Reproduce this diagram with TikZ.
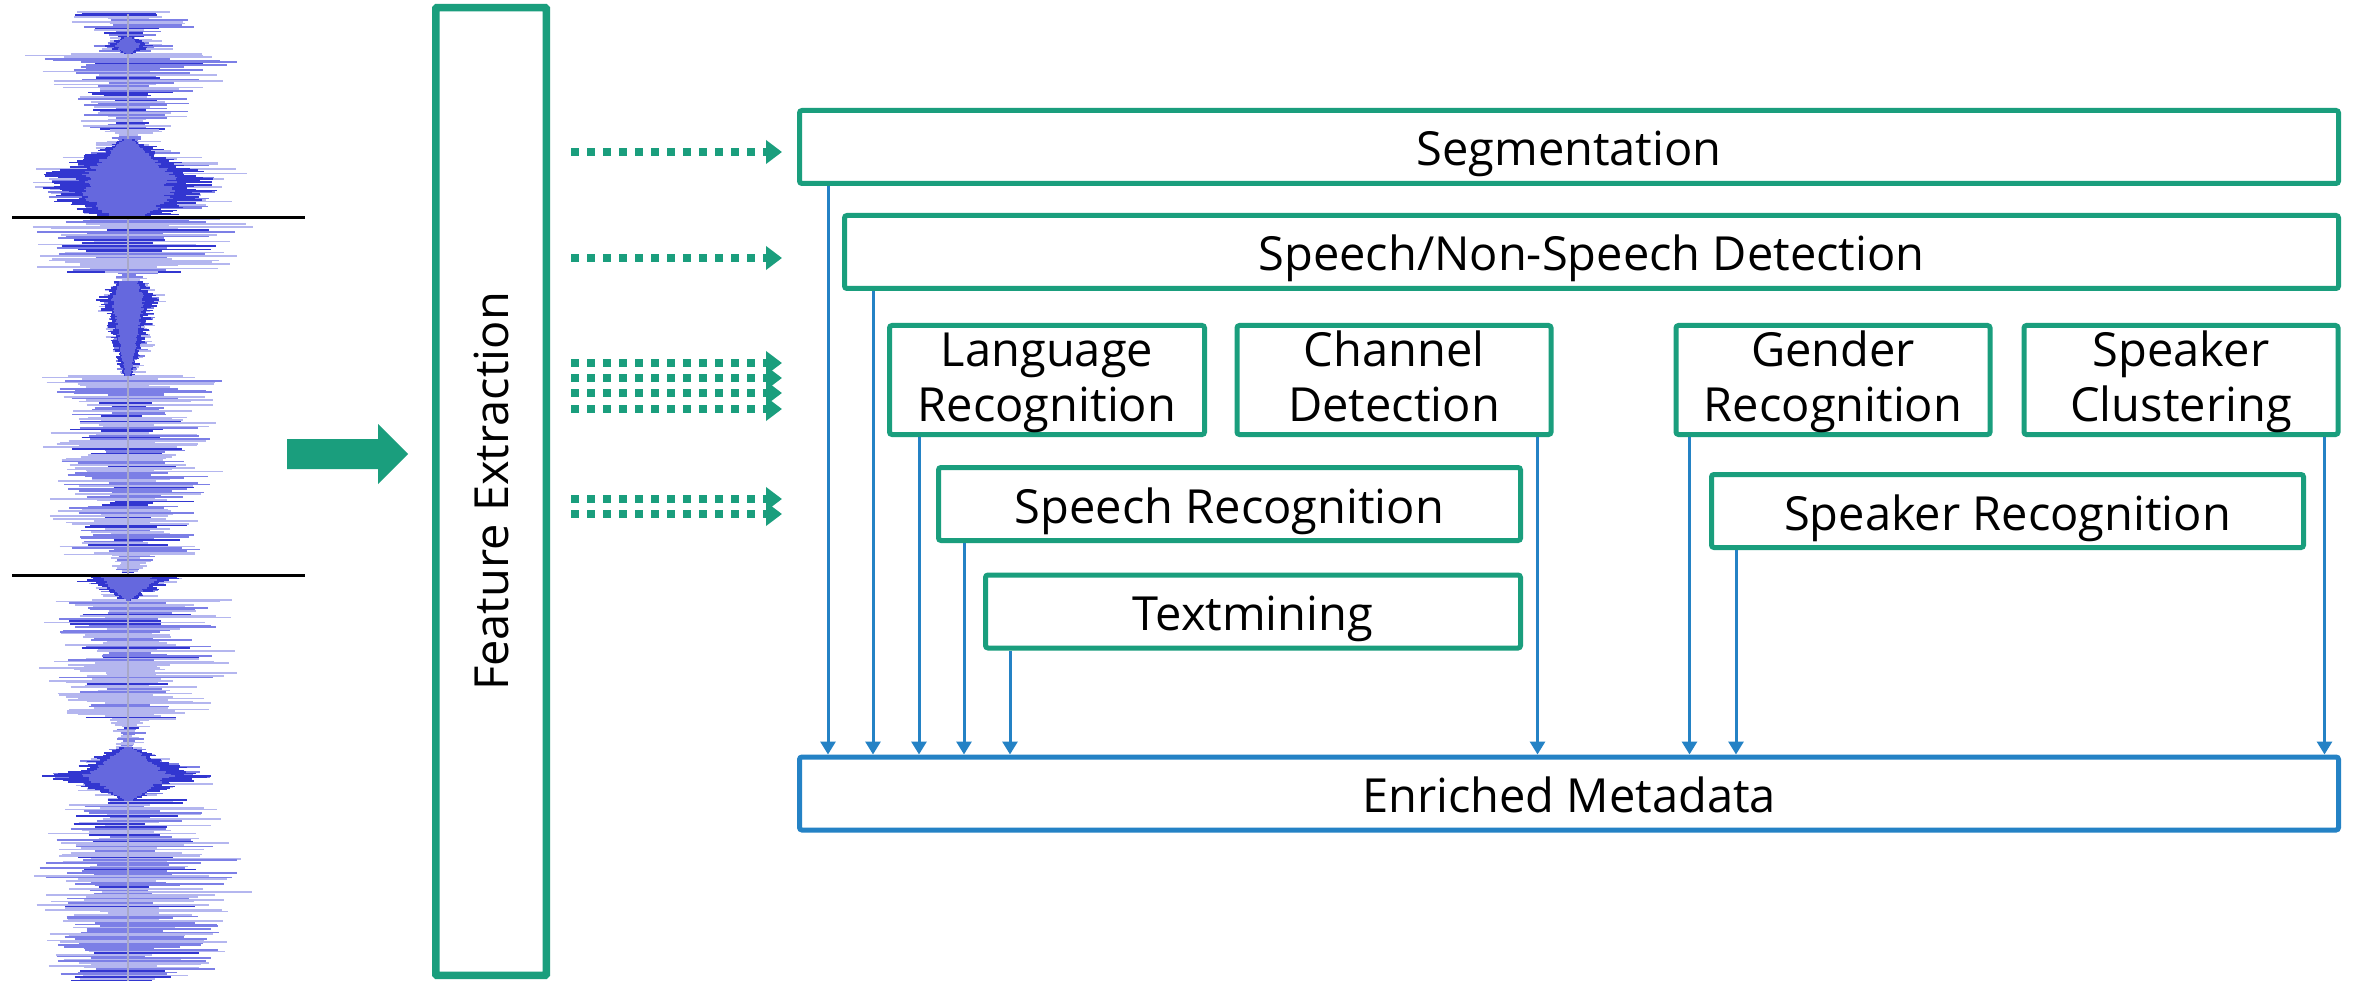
\documentclass[tikz,border=0pt]{standalone}
\usepackage{fontspec}
\setmainfont{Open Sans}
\usetikzlibrary{arrows.meta,calc}

\definecolor{fgreen}{HTML}{1A9E7D}
\definecolor{fblue}{HTML}{2482C5}
\definecolor{wlight}{HTML}{B4B6EF}
\definecolor{wmid}{HTML}{7C7FE6}
\definecolor{wdark}{HTML}{3236D0}
\definecolor{wcore}{HTML}{6568DE}
\definecolor{waxis}{HTML}{A8A8C8}

\newcommand\lblfont{\fontsize{47}{55}\selectfont}
\newcommand\duoline[2]{\rule{0pt}{40pt}#1\\#2\rule[-11.5pt]{0pt}{11.5pt}}

\tikzset{
  proc/.style={draw=fgreen, line width=5pt, rounded corners=2.5pt, fill=white,
               inner sep=0pt, align=center, font=\lblfont},
  oneline/.style={text height=45pt, text depth=7pt},
  outbox/.style={proc, draw=fblue},
  link/.style={draw=fblue, line width=3pt, -{Triangle[length=13pt,width=15pt]}},
  feed/.style={draw=fgreen, line width=8pt, dash pattern=on 8pt off 8pt,
               -{Triangle[length=16pt,width=23pt]}},
}

\begin{document}
\begin{tikzpicture}[x=1pt, y=-1pt]
\useasboundingbox (0,0) rectangle (2353,981);
\fill[white] (0,0) rectangle (2353,981);

% ---------- audio waveform (procedural) ----------
\pgfmathsetseed{1234}
\foreach \ya/\yb/\wa/\wb in {
  12/22/75/70, 22/38/70/22, 38/46/20/38, 46/54/38/30, 54/86/95/85,
  86/130/65/42, 130/140/30/15, 140/176/25/100, 176/200/100/85,
  200/216/80/50, 219/272/110/80, 272/282/30/10, 282/300/18/30,
  300/376/30/12, 376/420/85/60, 420/470/75/85, 470/500/70/72,
  500/555/75/60, 555/574/30/8, 577/600/45/20, 600/660/75/80,
  660/720/85/55, 720/748/20/12, 748/776/18/95, 776/800/95/15,
  800/860/70/85, 860/910/100/90, 910/981/80/75}{
  \pgfmathsetmacro\wfn{\ya+1.6}
  \foreach \y in {\ya,\wfn,...,\yb}{
    \pgfmathsetmacro\wfw{\wa+(\wb-\wa)*(\y-\ya)/(\yb-\ya)}
    \pgfmathsetmacro\wfk{rnd}
    \ifdim\wfk pt<0.5pt
      \def\wfcol{wlight}\def\wfs{1.0}
    \else\ifdim\wfk pt<0.85pt
      \def\wfcol{wmid}\def\wfs{0.85}
    \else
      \def\wfcol{wdark}\def\wfs{0.7}
    \fi\fi
    \pgfmathsetmacro\wfl{\wfw*\wfs*(0.25+0.85*rnd)}
    \pgfmathsetmacro\wfr{\wfw*\wfs*(0.25+1.15*rnd)}
    \draw[\wfcol, line width=1.6pt] (128-\wfl,\y) -- (128+\wfr,\y);
  }
}
\draw[waxis, line width=1.5pt] (128,14) -- (128,981);
% dense bursts
\foreach \ya/\yb/\ca/\cb in {
  38/46/5/15, 46/54/15/2, 140/176/5/50, 176/200/50/45, 200/216/45/20,
  282/300/10/18, 300/376/18/3, 577/582/28/30, 582/600/28/2,
  748/776/5/48, 776/800/48/5}{
  \pgfmathsetmacro\wfn{\ya+1.5}
  \foreach \y in {\ya,\wfn,...,\yb}{
    \pgfmathsetmacro\wfc{\ca+(\cb-\ca)*(\y-\ya)/(\yb-\ya)}
    \pgfmathsetmacro\wflo{\wfc*(1.0+0.8*rnd)}
    \pgfmathsetmacro\wfro{\wfc*(1.0+0.8*rnd)}
    \pgfmathsetmacro\wfli{\wfc*(0.75+0.25*rnd)}
    \pgfmathsetmacro\wfri{\wfc*(0.75+0.25*rnd)}
    \draw[wdark, line width=1.5pt] (128-\wflo,\y) -- (128+\wfro,\y);
    \draw[wcore, line width=1.5pt] (128-\wfli,\y) -- (128+\wfri,\y);
  }
}
% segment boundaries
\draw[line width=3pt] (12,218) -- (305,218);
\draw[line width=3pt] (12,575) -- (305,575);

% ---------- input arrow ----------
\fill[fgreen] (287,439) -- (378,439) -- (378,424) -- (408,454) -- (378,484)
  -- (378,469) -- (287,469) -- cycle;

% ---------- feature extraction ----------
\node[proc, line width=7.5pt, rounded corners=1pt, rotate=90,
      minimum width=967.5pt, minimum height=110.5pt] (fe) at (491,491.5)
      {Feature Extraction};

% feature streams
\foreach \yy [count=\k] in {152,258,363,378,393,409,499,514}{
  \coordinate (fa\k) at (571,\yy);
  \coordinate (fb\k) at (782,\yy);
  \draw[feed] (fa\k) -- (fb\k);
}

% ---------- analysis modules ----------
\node[proc, oneline, minimum width=1539pt, minimum height=73pt] (seg) at (1569,147) {Segmentation};
\node[proc, oneline, minimum width=1494pt, minimum height=73pt] (sns) at (1591.5,252) {Speech/Non-Speech Detection};
\node[proc, minimum width=315pt, minimum height=109pt] (lr) at (1047,380) {\duoline{Language}{Recognition}};
\node[proc, minimum width=314pt, minimum height=109pt] (cd) at (1394,380) {\duoline{Channel}{Detection}};
\node[proc, minimum width=314pt, minimum height=109pt] (gr) at (1833,380) {\duoline{Gender}{Recognition}};
\node[proc, minimum width=314pt, minimum height=109pt] (sc) at (2181,380) {\duoline{Speaker}{Clustering}};
\node[proc, oneline, minimum width=582pt, minimum height=73pt] (sr) at (1229.5,504) {Speech Recognition};
\node[proc, oneline, minimum width=592pt, minimum height=73pt] (spk) at (2007.5,511) {Speaker Recognition};
\node[proc, oneline, minimum width=535pt, minimum height=73pt] (tm) at (1253,611.5) {Textmining};
\node[outbox, oneline, minimum width=1539pt, minimum height=73pt] (em) at (1569,793.5) {Enriched Metadata};

% ---------- results into the metadata ----------
\foreach \n/\a/\dx in {seg/south west/31, sns/south west/31, lr/south west/32,
  sr/south west/28, tm/south west/27, cd/south east/-16, gr/south west/16,
  spk/south west/27, sc/south east/-16}{
  \coordinate (from) at ([xshift=\dx pt]\n.\a);
  \draw[link] (from) -- (from |- em.north);
}
\end{tikzpicture}
\end{document}
